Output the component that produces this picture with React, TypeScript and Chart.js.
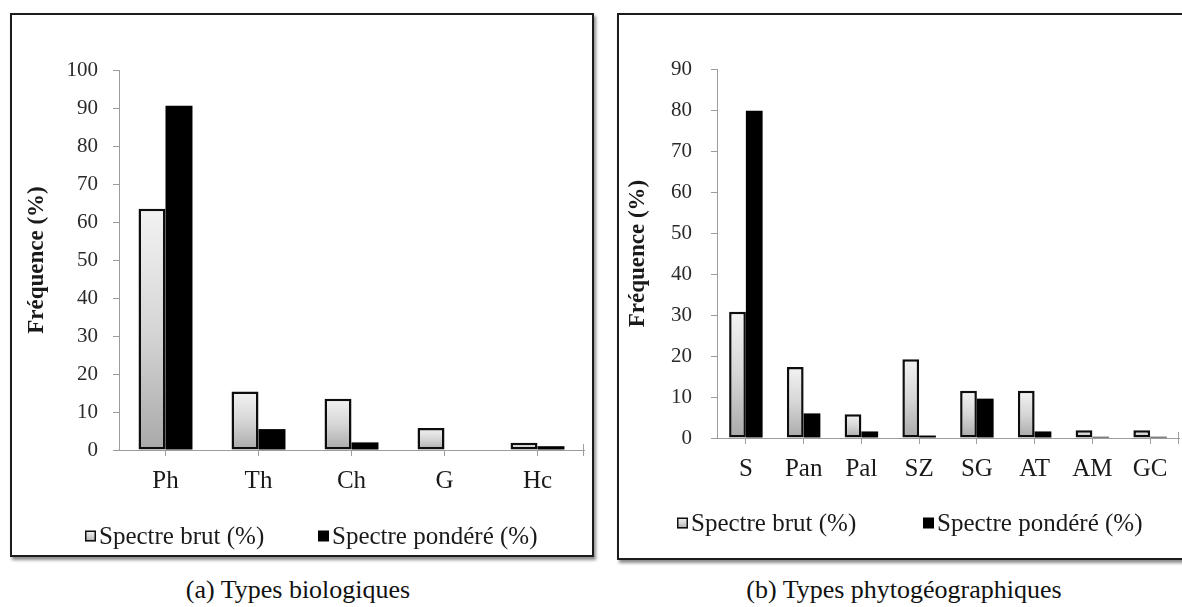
import React, { useEffect, useRef } from "react";
import { Chart, registerables } from "chart.js";

Chart.register(...registerables);

// ---------- data ----------
const bioCategories = ["Ph", "Th", "Ch", "G", "Hc"];
const bioBrut = [63.5, 15.4, 13.5, 5.8, 1.9];
const bioPondere = [90.6, 5.5, 2.0, 0, 1.0];
const bioYMax = 100;

const phytoCategories = ["S", "Pan", "Pal", "SZ", "SG", "AT", "AM", "GC"];
const phytoBrut = [30.8, 17.3, 5.8, 19.2, 11.5, 11.5, 1.9, 1.9];
const phytoPondere = [79.8, 6.0, 1.6, 0.6, 9.6, 1.6, 0.3, 0.3];
const phytoYMax = 90;

const yStep = 10;
const seriesLabels = ["Spectre brut (%)", "Spectre pondéré (%)"];
const yTitle = "Fréquence (%)";
const captions = ["(a) Types biologiques", "(b) Types phytogéographiques"];

// ---------- style ----------
const FONT = "'Liberation Serif', 'Times New Roman', Times, serif";
const AXIS_GRAY = "#9c9c9c";
const TEXT = "#1a1a1a";

function makeGradient(ctx: CanvasRenderingContext2D, top: number, base: number) {
  const g = ctx.createLinearGradient(0, top, 0, base);
  g.addColorStop(0, "#f3f3f3");
  g.addColorStop(0.5, "#d6d6d6");
  g.addColorStop(1, "#a9a9a9");
  return g;
}

const customLegend = {
  id: "customLegend",
  afterDraw(chart: any, _args: any, opts: any) {
    const { ctx } = chart;
    ctx.save();
    ctx.font = `${opts.fontSize}px ${FONT}`;
    ctx.textBaseline = "middle";
    ctx.textAlign = "left";
    const s = opts.box;
    chart.data.datasets.forEach((ds: any, i: number) => {
      const x = opts.xs[i];
      const y = opts.y;
      if (i === 0) {
        ctx.fillStyle = makeGradient(ctx, y - s / 2, y + s / 2);
        ctx.fillRect(x, y - s / 2, s, s);
        ctx.lineWidth = 1.5;
        ctx.strokeStyle = "#111";
        ctx.strokeRect(x + 0.75, y - s / 2 + 0.75, s - 1.5, s - 1.5);
      } else {
        ctx.fillStyle = "#000";
        ctx.fillRect(x, y - s / 2, s, s);
      }
      ctx.fillStyle = TEXT;
      ctx.fillText(ds.label, x + s + opts.markerGap, y + opts.textDy);
    });
    ctx.restore();
  },
};

// small tick that closes the category axis at its right end
const axisEndTick = {
  id: "axisEndTick",
  afterDraw(chart: any) {
    const { ctx, chartArea } = chart;
    ctx.save();
    ctx.strokeStyle = AXIS_GRAY;
    ctx.lineWidth = 1;
    ctx.beginPath();
    const x = Math.round(chartArea.right) - 0.5;
    ctx.moveTo(x, chartArea.bottom - 6);
    ctx.lineTo(x, chartArea.bottom + 6);
    ctx.stroke();
    ctx.restore();
  },
};

type Layout = {
  width: number;
  height: number;
  areaLeft: number;
  areaRight: number;
  areaTop: number;
  areaBottom: number;
  titlePad: number;
  yLabelPad: number;
  xLabelPad: number;
  legendXs: number[];
  legendY: number;
};

function BarPanel({
  categories,
  brut,
  pondere,
  yMax,
  layout,
}: {
  categories: string[];
  brut: number[];
  pondere: number[];
  yMax: number;
  layout: Layout;
}) {
  const ref = useRef<HTMLCanvasElement | null>(null);
  useEffect(() => {
    if (!ref.current) return;
    const L = layout;
    const chart = new Chart(ref.current, {
      type: "bar",
      data: {
        labels: categories,
        datasets: [
          {
            label: seriesLabels[0],
            data: brut,
            backgroundColor: (c: any) => {
              const ch = c.chart;
              const y = ch.scales && ch.scales.y;
              if (!y || c.type !== "data") return "#d4d4d4";
              const top = y.getPixelForValue(c.raw);
              const base = y.getPixelForValue(0);
              if (!isFinite(top) || !isFinite(base) || base - top < 1) return "#d4d4d4";
              return makeGradient(ch.ctx, top, base);
            },
            borderColor: "#0d0d0d",
            borderWidth: 2.5,
            borderSkipped: false,
            categoryPercentage: 0.58,
            barPercentage: 1,
          },
          {
            label: seriesLabels[1],
            data: pondere,
            backgroundColor: "#000000",
            borderWidth: 0,
            categoryPercentage: 0.58,
            barPercentage: 1,
          },
        ],
      },
      options: {
        responsive: false,
        animation: false,
        devicePixelRatio: 1,
        layout: {
          padding: {
            left: 0,
            top: L.areaTop,
            right: L.width - L.areaRight,
            bottom: 0,
          },
        },
        plugins: {
          legend: { display: false },
          tooltip: { enabled: false },
          customLegend: {
            xs: L.legendXs,
            y: L.legendY,
            box: 11,
            markerGap: 3,
            fontSize: 25,
            textDy: 1,
          },
        } as any,
        scales: {
          x: {
            afterFit: (s: any) => {
              s.height = L.height - L.areaBottom;
            },
            grid: {
              display: true,
              drawOnChartArea: false,
              drawTicks: true,
              offset: false,
              tickLength: 6,
              color: AXIS_GRAY,
              lineWidth: 1,
            },
            border: { display: true, color: AXIS_GRAY, width: 1 },
            ticks: {
              color: TEXT,
              font: { family: FONT, size: 25 },
              padding: L.xLabelPad,
              maxRotation: 0,
              autoSkip: false,
            },
          },
          y: {
            min: 0,
            max: yMax,
            afterFit: (s: any) => {
              s.width = L.areaLeft;
            },
            grid: {
              display: true,
              drawOnChartArea: false,
              drawTicks: true,
              tickLength: 6,
              color: AXIS_GRAY,
              lineWidth: 1,
            },
            border: { display: true, color: AXIS_GRAY, width: 1 },
            ticks: {
              stepSize: yStep,
              color: "#2a2a2a",
              font: { family: FONT, size: 21 },
              padding: L.yLabelPad,
            },
            title: {
              display: true,
              text: yTitle,
              color: TEXT,
              font: { family: FONT, size: 23, weight: "bold" },
              padding: { top: L.titlePad, bottom: 0 },
            },
          },
        },
      },
      plugins: [customLegend, axisEndTick],
    });
    return () => chart.destroy();
  }, []);
  return (
    <canvas
      ref={ref}
      width={layout.width}
      height={layout.height}
      style={{ display: "block", width: layout.width, height: layout.height }}
    />
  );
}

const leftLayout: Layout = {
  width: 580,
  height: 540,
  areaLeft: 107,
  areaRight: 572,
  areaTop: 55,
  areaBottom: 435,
  titlePad: 11,
  yLabelPad: 15,
  xLabelPad: 10,
  legendXs: [73, 306],
  legendY: 521,
};

const rightLayout: Layout = {
  width: 579,
  height: 543,
  areaLeft: 98,
  areaRight: 560,
  areaTop: 54,
  areaBottom: 423,
  titlePad: 5,
  yLabelPad: 19,
  xLabelPad: 10,
  legendXs: [58, 304],
  legendY: 508,
};

const boxStyle = (left: number, w: number, h: number): React.CSSProperties => ({
  position: "absolute",
  left,
  top: 13,
  width: w,
  height: h,
  border: "2px solid #1c1c1c",
  boxShadow: "2px 3px 3px rgba(0,0,0,0.45)",
  background: "#fff",
});

const captionStyle = (left: number): React.CSSProperties => ({
  position: "absolute",
  left,
  width: 400,
  top: 575,
  textAlign: "center",
  fontSize: 26,
  lineHeight: "30px",
  color: "#111",
});

export default function App() {
  return (
    <div
      style={{
        position: "absolute",
        left: 0,
        top: 0,
        width: 1182,
        height: 607,
        overflow: "hidden",
        background: "#fff",
        fontFamily: FONT,
      }}
    >
      <div style={boxStyle(10, 580, 540)}>
        <BarPanel categories={bioCategories} brut={bioBrut} pondere={bioPondere} yMax={bioYMax} layout={leftLayout} />
      </div>
      <div style={boxStyle(617, 579, 543)}>
        <BarPanel categories={phytoCategories} brut={phytoBrut} pondere={phytoPondere} yMax={phytoYMax} layout={rightLayout} />
      </div>
      <div style={captionStyle(98)}>{captions[0]}</div>
      <div style={captionStyle(704)}>{captions[1]}</div>
    </div>
  );
}
